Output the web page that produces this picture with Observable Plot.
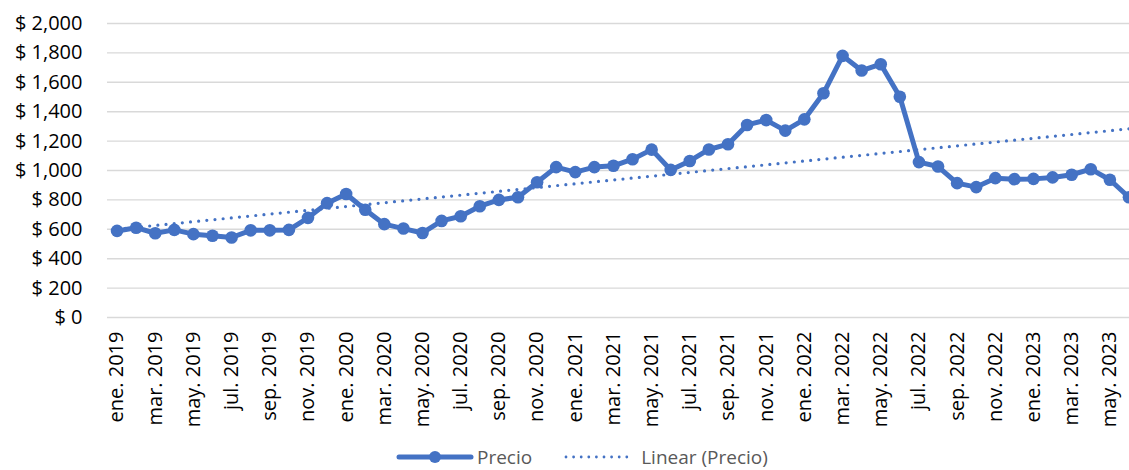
<!DOCTYPE html>
<html>
<head>
<meta charset="utf-8">
<script src="https://cdn.jsdelivr.net/npm/d3@7"></script>
<script src="https://cdn.jsdelivr.net/npm/@observablehq/plot@0.6"></script>
<style>
  html, body { margin: 0; padding: 0; background: #fff; overflow: hidden; }
  #wrap { position: relative; width: 1129px; height: 470px; overflow: hidden; font-family: "Open Sans", Lato, sans-serif; }
  #chart { position: absolute; left: 0; top: 0; width: 1139px; }
  #chart svg { max-width: none !important; }
  #legend { position: absolute; left: 396px; top: 447px; height: 20px; display: flex; align-items: center; font-size: 19px; line-height: 20px; color: #595959; white-space: nowrap; }
  #legend .item { display: flex; align-items: center; height: 20px; }
  #legend svg { display: block; }
</style>
</head>
<body>
<div id="wrap">
  <div id="chart"></div>
  <div id="legend"></div>
</div>
<script>
// Category labels (monthly)
const months = [
  "ene. 2019","feb. 2019","mar. 2019","abr. 2019","may. 2019","jun. 2019","jul. 2019","ago. 2019","sep. 2019","oct. 2019","nov. 2019","dic. 2019",
  "ene. 2020","feb. 2020","mar. 2020","abr. 2020","may. 2020","jun. 2020","jul. 2020","ago. 2020","sep. 2020","oct. 2020","nov. 2020","dic. 2020",
  "ene. 2021","feb. 2021","mar. 2021","abr. 2021","may. 2021","jun. 2021","jul. 2021","ago. 2021","sep. 2021","oct. 2021","nov. 2021","dic. 2021",
  "ene. 2022","feb. 2022","mar. 2022","abr. 2022","may. 2022","jun. 2022","jul. 2022","ago. 2022","sep. 2022","oct. 2022","nov. 2022","dic. 2022",
  "ene. 2023","feb. 2023","mar. 2023","abr. 2023","may. 2023","jun. 2023"
];

// Series values (Precio)
const prices = [
  589, 611, 573, 596, 567, 556, 544, 593, 593, 596, 678, 778,
  840, 733, 635, 605, 575, 657, 689, 757, 800, 818, 920, 1023,
  989, 1023, 1032, 1077, 1142, 1004, 1065, 1143, 1179, 1310, 1343, 1271,
  1348, 1525, 1780, 1680, 1723, 1502, 1057, 1027, 914, 887, 948, 941,
  943, 953, 971, 1009, 937, 818
];

// Tick values
const yTicks = [0, 200, 400, 600, 800, 1000, 1200, 1400, 1600, 1800, 2000];
const xTickLabels = ["ene. 2019","mar. 2019","may. 2019","jul. 2019","sep. 2019","nov. 2019","ene. 2020","mar. 2020","may. 2020","jul. 2020","sep. 2020","nov. 2020","ene. 2021","mar. 2021","may. 2021","jul. 2021","sep. 2021","nov. 2021","ene. 2022","mar. 2022","may. 2022","jul. 2022","sep. 2022","nov. 2022","ene. 2023","mar. 2023","may. 2023"];

const seriesName = "Precio";
const trendName = "Linear (Precio)";
const color = "#4472C4";

const data = prices.map((v, i) => ({ i, month: months[i], v }));
const xTicks = xTickLabels.map(l => months.indexOf(l));

const chart = Plot.plot({
  width: 1139,
  height: 440,
  marginLeft: 107,
  marginRight: 1,
  marginTop: 23,
  marginBottom: 123,
  style: { fontFamily: "'Open Sans', Lato, sans-serif", fontSize: "20px", color: "#000", background: "transparent", overflow: "visible", maxWidth: "none" },
  x: { domain: [-0.5, months.length - 0.5], axis: null },
  y: { domain: [0, 2000], axis: null },
  marks: [
    Plot.gridY(yTicks, { stroke: "#d9d9d9", strokeOpacity: 1, strokeWidth: 1.4 }),
    Plot.axisY(yTicks, { label: null, tickSize: 0, tickPadding: 25, tickFormat: d => "$ " + d3.format(",")(d), fill: "#000" }),
    Plot.axisX(xTicks, { label: null, tickSize: 0, tickRotate: -90, tickPadding: 14, tickFormat: i => months[i], fill: "#000" }),
    Plot.line(data, { x: "i", y: "v", stroke: color, strokeWidth: 5, strokeLinejoin: "round" }),
    Plot.dot(data, { x: "i", y: "v", r: 6.3, fill: color }),
    Plot.linearRegressionY(data, { x: "i", y: "v", ci: 0, stroke: color, strokeWidth: 3.2, strokeDasharray: "0 8.2", strokeLinecap: "round" })
  ]
});
document.getElementById("chart").appendChild(chart);

// Legend
const legend = d3.select("#legend");
const item1 = legend.append("div").attr("class", "item");
const s1 = item1.append("svg").attr("width", 78).attr("height", 20);
s1.append("line").attr("x1", 3).attr("x2", 75).attr("y1", 10).attr("y2", 10)
  .attr("stroke", color).attr("stroke-width", 5).attr("stroke-linecap", "round");
s1.append("circle").attr("cx", 39).attr("cy", 10).attr("r", 6).attr("fill", color);
item1.append("span").text(seriesName).style("margin-left", "3px");

const item2 = legend.append("div").attr("class", "item").style("margin-left", "32px");
const s2 = item2.append("svg").attr("width", 72).attr("height", 20);
s2.append("line").attr("x1", 2).attr("x2", 70).attr("y1", 10).attr("y2", 10)
  .attr("stroke", color).attr("stroke-width", 2.8).attr("stroke-dasharray", "0 7.6").attr("stroke-linecap", "round");
item2.append("span").text(trendName).style("margin-left", "5px");
</script>
</body>
</html>
